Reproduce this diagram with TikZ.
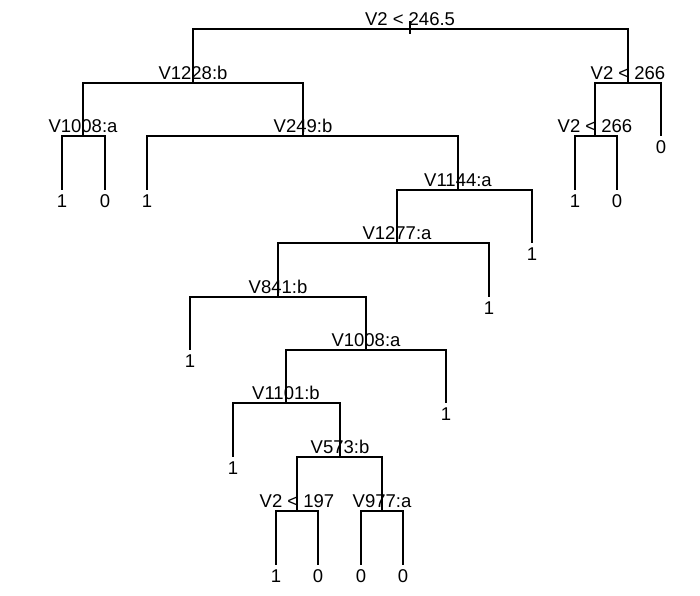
\documentclass[tikz,border=0pt]{standalone}
\usepackage{fontspec}
\setmainfont{Liberation Sans}
\begin{document}
\begin{tikzpicture}[x=1pt,y=-1pt,
  edge/.style={line width=1.4pt},
  split/.style={anchor=base,inner sep=0pt,font=\fontsize{18.5}{20}\selectfont},
  leaf/.style={anchor=base,inner sep=0pt,font=\fontsize{18.5}{20}\selectfont}]
\useasboundingbox (0,0) rectangle (700,595);
% split points
\coordinate (root) at (410,29);
\coordinate (rtop) at (410,21);
\coordinate (rbot) at (410,34);
\coordinate (A) at (193,83);
\coordinate (B) at (628,83);
\coordinate (C) at (83,136);
\coordinate (D) at (303,136);
\coordinate (E) at (458,190);
\coordinate (F) at (397,243);
\coordinate (G) at (278,297);
\coordinate (H) at (366,350);
\coordinate (I) at (286,403);
\coordinate (J) at (340,457);
\coordinate (K) at (297,511);
\coordinate (M) at (382,511);
\coordinate (N) at (595,136);
% leaves
\coordinate (c1) at (62,190);
\coordinate (c2) at (105,190);
\coordinate (d1) at (147,190);
\coordinate (e2) at (532,243);
\coordinate (f2) at (489,297);
\coordinate (g1) at (190,350);
\coordinate (h2) at (446,403);
\coordinate (i1) at (233,457);
\coordinate (k1) at (276,565);
\coordinate (k2) at (318,565);
\coordinate (m1) at (361,565);
\coordinate (m2) at (403,565);
\coordinate (b2) at (661,136);
\coordinate (n1) at (575,190);
\coordinate (n2) at (617,190);
% connectors
\draw[edge] (rtop) -- (rbot);
\draw[edge] (root) -| (A);
\draw[edge] (root) -| (B);
\draw[edge] (A) -| (C);
\draw[edge] (A) -| (D);
\draw[edge] (C) -| (c1);
\draw[edge] (C) -| (c2);
\draw[edge] (D) -| (d1);
\draw[edge] (D) -| (E);
\draw[edge] (E) -| (F);
\draw[edge] (E) -| (e2);
\draw[edge] (F) -| (G);
\draw[edge] (F) -| (f2);
\draw[edge] (G) -| (g1);
\draw[edge] (G) -| (H);
\draw[edge] (H) -| (I);
\draw[edge] (H) -| (h2);
\draw[edge] (I) -| (i1);
\draw[edge] (I) -| (J);
\draw[edge] (J) -| (K);
\draw[edge] (J) -| (M);
\draw[edge] (K) -| (k1);
\draw[edge] (K) -| (k2);
\draw[edge] (M) -| (m1);
\draw[edge] (M) -| (m2);
\draw[edge] (B) -| (N);
\draw[edge] (B) -| (b2);
\draw[edge] (N) -| (n1);
\draw[edge] (N) -| (n2);
% split labels
\node[split] (lroot) at ([yshift=4pt]root) {V2 < 246.5};
\node[split] (lA) at ([yshift=4pt]A) {V1228:b};
\node[split] (lB) at ([yshift=4pt]B) {V2 < 266};
\node[split] (lC) at ([yshift=4pt]C) {V1008:a};
\node[split] (lD) at ([yshift=4pt]D) {V249:b};
\node[split] (lE) at ([yshift=4pt]E) {V1144:a};
\node[split] (lF) at ([yshift=4pt]F) {V1277:a};
\node[split] (lG) at ([yshift=4pt]G) {V841:b};
\node[split] (lH) at ([yshift=4pt]H) {V1008:a};
\node[split] (lI) at ([yshift=4pt]I) {V1101:b};
\node[split] (lJ) at ([yshift=4pt]J) {V573:b};
\node[split] (lK) at ([yshift=4pt]K) {V2 < 197};
\node[split] (lM) at ([yshift=4pt]M) {V977:a};
\node[split] (lN) at ([yshift=4pt]N) {V2 < 266};
% leaf labels
\node[leaf] (tc1) at ([yshift=-17pt]c1) {1};
\node[leaf] (tc2) at ([yshift=-17pt]c2) {0};
\node[leaf] (td1) at ([yshift=-17pt]d1) {1};
\node[leaf] (te2) at ([yshift=-17pt]e2) {1};
\node[leaf] (tf2) at ([yshift=-17pt]f2) {1};
\node[leaf] (tg1) at ([yshift=-17pt]g1) {1};
\node[leaf] (th2) at ([yshift=-17pt]h2) {1};
\node[leaf] (ti1) at ([yshift=-17pt]i1) {1};
\node[leaf] (tk1) at ([yshift=-17pt]k1) {1};
\node[leaf] (tk2) at ([yshift=-17pt]k2) {0};
\node[leaf] (tm1) at ([yshift=-17pt]m1) {0};
\node[leaf] (tm2) at ([yshift=-17pt]m2) {0};
\node[leaf] (tb2) at ([yshift=-17pt]b2) {0};
\node[leaf] (tn1) at ([yshift=-17pt]n1) {1};
\node[leaf] (tn2) at ([yshift=-17pt]n2) {0};
\end{tikzpicture}
\end{document}
